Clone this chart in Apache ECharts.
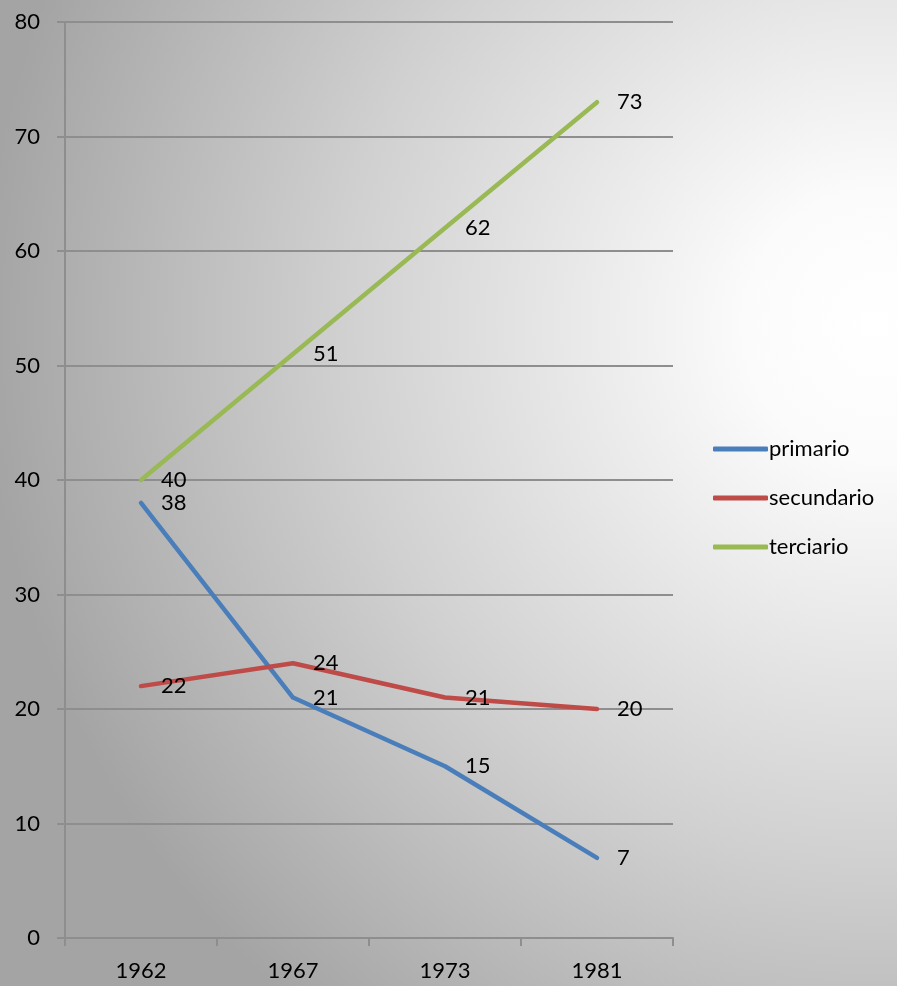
<!DOCTYPE html>
<html>
<head>
<meta charset="utf-8">
<script src="https://cdn.jsdelivr.net/npm/echarts@6/dist/echarts.min.js"></script>
<style>
  html, body { margin: 0; padding: 0; }
  #chart { width: 897px; height: 986px; }
</style>
</head>
<body>
<div id="chart"></div>
<script>
// Employment share by sector (%)
const years = ['1962', '1967', '1973', '1981'];
const primario = [38, 21, 15, 7];
const secundario = [22, 24, 21, 20];
const terciario = [40, 51, 62, 73];
const yTicks = { min: 0, max: 80, interval: 10 };

const FONT = 'Lato, "Open Sans", sans-serif';
const gridColor = '#8e8e8e';

function lineSeries(name, data, color) {
  return {
    name: name,
    type: 'line',
    data: data,
    symbol: 'circle',
    symbolSize: 0.1,
    itemStyle: { color: color },
    lineStyle: { color: color, width: 4.5, cap: 'round', join: 'round' },
    label: {
      show: true,
      position: 'right',
      distance: 20,
      color: '#000',
      fontFamily: FONT,
      fontSize: 22
    },
    emphasis: { disabled: true },
    animation: false
  };
}

const chart = echarts.init(document.getElementById('chart'));
chart.setOption({
  backgroundColor: {
    type: 'radial',
    x: 0.98, y: 0.33, r: 1,
    colorStops: [
      { offset: 0, color: '#ffffff' },
      { offset: 0.15, color: '#fbfbfb' },
      { offset: 0.6, color: '#d0d0d0' },
      { offset: 1, color: '#a4a4a4' }
    ]
  },
  grid: { left: 65, right: 224, top: 22, bottom: 48, containLabel: false },
  legend: {
    orient: 'vertical',
    left: 708,
    top: 433,
    itemWidth: 55,
    itemHeight: 5,
    itemGap: 27,
    icon: 'roundRect',
    data: ['primario', 'secundario', 'terciario'],
    textStyle: { color: '#000', fontFamily: FONT, fontSize: 22, padding: [0, 0, 0, -4] }
  },
  xAxis: {
    type: 'category',
    data: years,
    boundaryGap: true,
    axisLine: { show: true, lineStyle: { color: gridColor, width: 2 } },
    axisTick: { show: true, length: 8, inside: false, lineStyle: { color: gridColor, width: 2 } },
    axisLabel: { color: '#000', fontFamily: FONT, fontSize: 22, margin: 22 },
    splitLine: { show: false }
  },
  yAxis: {
    type: 'value',
    min: yTicks.min,
    max: yTicks.max,
    interval: yTicks.interval,
    axisLine: { show: true, lineStyle: { color: gridColor, width: 2 } },
    axisTick: { show: true, length: 8, lineStyle: { color: gridColor, width: 2 } },
    axisLabel: { color: '#000', fontFamily: FONT, fontSize: 22, margin: 25 },
    splitLine: { show: true, lineStyle: { color: gridColor, width: 2 } }
  },
  series: [
    lineSeries('primario', primario, '#4a7ebb'),
    lineSeries('secundario', secundario, '#be4b48'),
    lineSeries('terciario', terciario, '#98b954')
  ]
});
</script>
</body>
</html>
